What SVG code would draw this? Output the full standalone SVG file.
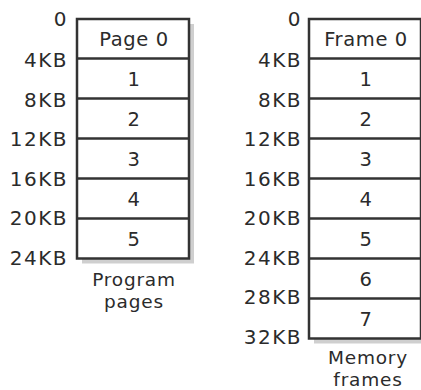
<svg xmlns="http://www.w3.org/2000/svg" width="421" height="390" viewBox="0 0 421 390">
<style>
text{font-family:"DejaVu Sans","Liberation Sans",sans-serif;fill:#2b2b2b}
.a{font-size:20px;text-anchor:end;letter-spacing:1.5px}
.c{font-size:19.5px;text-anchor:middle;letter-spacing:0.6px}
.cap{font-size:18.5px;text-anchor:middle;letter-spacing:0.8px}
.box{fill:#fff;stroke:#333;stroke-width:2.5}
.sh{fill:#cfcfcf}
.div{stroke:#333;stroke-width:2.5}
</style>
<rect width="421" height="390" fill="#fff"/>
<g id="program">
<rect class="sh" x="82" y="24" width="112" height="239.5"/>
<rect class="box" x="77" y="19" width="112" height="239.5"/>
<line class="div" x1="77" y1="58.5" x2="189" y2="58.5"/>
<line class="div" x1="77" y1="98.5" x2="189" y2="98.5"/>
<line class="div" x1="77" y1="138.5" x2="189" y2="138.5"/>
<line class="div" x1="77" y1="178.5" x2="189" y2="178.5"/>
<line class="div" x1="77" y1="218.5" x2="189" y2="218.5"/>
<text class="c" x="134" y="45.5">Page 0</text>
<text class="c" x="134" y="85.5">1</text>
<text class="c" x="134" y="125.5">2</text>
<text class="c" x="134" y="165.5">3</text>
<text class="c" x="134" y="205.5">4</text>
<text class="c" x="134" y="245.5">5</text>
<text class="a" x="68" y="26">0</text>
<text class="a" x="68" y="67">4KB</text>
<text class="a" x="68" y="106.5">8KB</text>
<text class="a" x="68" y="146">12KB</text>
<text class="a" x="68" y="186">16KB</text>
<text class="a" x="68" y="225">20KB</text>
<text class="a" x="68" y="265">24KB</text>
<text class="cap" x="134" y="286">Program</text>
<text class="cap" x="134" y="308">pages</text>
</g>
<g id="memory">
<rect class="sh" x="314" y="24" width="112" height="319.5"/>
<rect class="box" x="309" y="19" width="112" height="319.5"/>
<line class="div" x1="309" y1="58.5" x2="421" y2="58.5"/>
<line class="div" x1="309" y1="98.5" x2="421" y2="98.5"/>
<line class="div" x1="309" y1="138.5" x2="421" y2="138.5"/>
<line class="div" x1="309" y1="178.5" x2="421" y2="178.5"/>
<line class="div" x1="309" y1="218.5" x2="421" y2="218.5"/>
<line class="div" x1="309" y1="258.5" x2="421" y2="258.5"/>
<line class="div" x1="309" y1="298.5" x2="421" y2="298.5"/>
<text class="c" x="366" y="45.5">Frame 0</text>
<text class="c" x="366" y="85.5">1</text>
<text class="c" x="366" y="125.5">2</text>
<text class="c" x="366" y="165.5">3</text>
<text class="c" x="366" y="205.5">4</text>
<text class="c" x="366" y="245.5">5</text>
<text class="c" x="366" y="285.5">6</text>
<text class="c" x="366" y="325.5">7</text>
<text class="a" x="302" y="26">0</text>
<text class="a" x="302" y="67">4KB</text>
<text class="a" x="302" y="106.5">8KB</text>
<text class="a" x="302" y="146">12KB</text>
<text class="a" x="302" y="186">16KB</text>
<text class="a" x="302" y="225">20KB</text>
<text class="a" x="302" y="265">24KB</text>
<text class="a" x="302" y="304">28KB</text>
<text class="a" x="302" y="344">32KB</text>
<text class="cap" x="368" y="364">Memory</text>
<text class="cap" x="368" y="386">frames</text>
</g>
<g id="connectors"/>
</svg>
